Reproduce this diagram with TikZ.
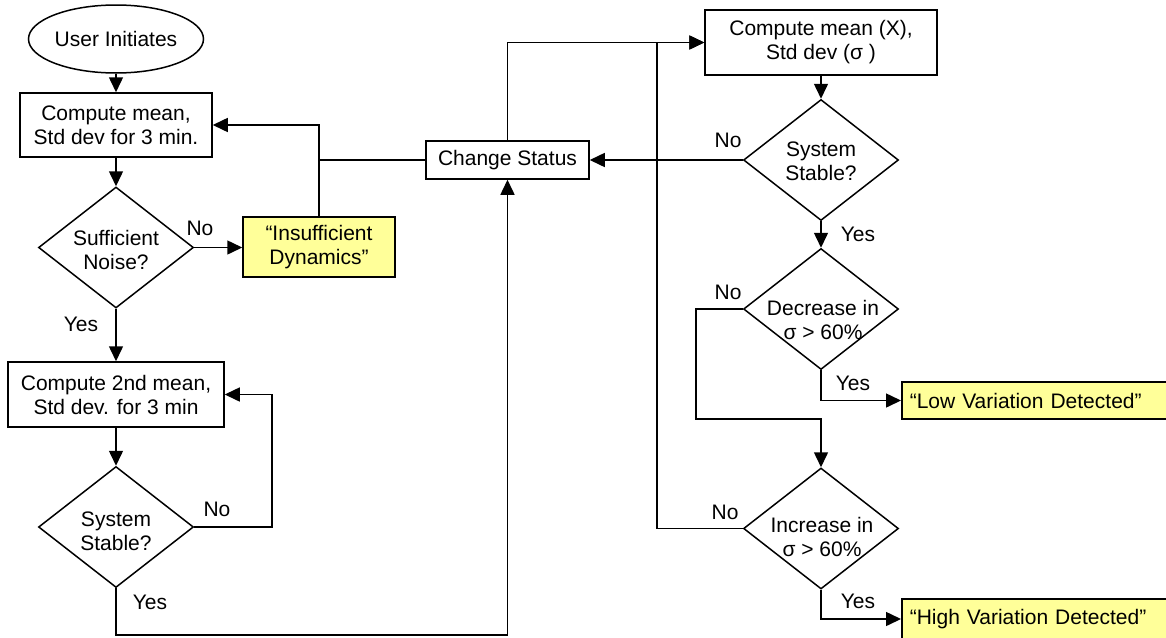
\documentclass[tikz,border=0pt]{standalone}
\usepackage{fontspec}
\setmainfont{Liberation Sans}
\usetikzlibrary{shapes.geometric,arrows.meta,calc}
\definecolor{notecol}{HTML}{FFFF99}
\begin{document}
\begin{tikzpicture}[x=1pt,y=-1pt,
  font=\fontsize{21}{24}\selectfont,
  line width=1.5pt,
  proc/.style={draw, rectangle, align=center, inner sep=0pt},
  notebox/.style={draw, rectangle, fill=notecol, align=center, inner sep=0pt},
  dec/.style={draw, diamond, inner sep=0pt, minimum width=155pt, minimum height=121pt},
  txt/.style={align=center, inner sep=0pt},
  lab/.style={inner sep=0pt},
  arr/.style={-{Triangle[length=15pt,width=14pt]}},
  thinline/.style={line width=1pt}
]
\useasboundingbox (0,0) rectangle (1166,637);

% nodes
\node[draw, ellipse, minimum width=175pt, minimum height=68pt, inner sep=0pt] (ell) at (116,39) {User Initiates};
\node[proc, minimum width=192pt, minimum height=64pt] (b1) at (116,125) {Compute mean,\\Std dev for 3 min.};
\node[dec] (d1) at (116,247.5) {};
\node[txt] (d1t) at (116,250) {Sufficient\\Noise?};
\node[notebox, minimum width=152pt, minimum height=60pt] (y1) at (319,247) {“Insufficient\\Dynamics”};
\node[proc, minimum width=216pt, minimum height=65pt] (b2) at (116,394.5) {Compute 2nd mean,\\Std dev. for 3 min};
\node[dec] (d2) at (116,527) {};
\node[txt] (d2t) at (116,531) {System\\Stable?};
\node[proc, minimum width=163pt, minimum height=38pt] (cs) at (507.5,160) {Change Status};
\node[proc, minimum width=232pt, minimum height=65pt] (cm) at (821,42.5) {Compute mean (X),\\Std dev (σ )};
\node[dec] (d3) at (821,160) {};
\node[txt] (d3t) at (821,161) {System\\Stable?};
\node[dec] (d4) at (821,309) {};
\node[txt] (d4t) at (823,320) {Decrease in\\σ > 60\%};
\node[dec] (d5) at (821,528.5) {};
\node[txt] (d5t) at (822,537) {Increase in\\σ > 60\%};
\node[notebox, anchor=west, minimum height=37pt, text width=254pt, align=left, inner xsep=8pt] (lo) at (901,400.5) {“Low Variation Detected”};
\node[notebox, anchor=west, minimum height=40pt, text width=254pt, align=left, inner xsep=8pt] (hi) at (901,619) {“High Variation Detected”};

% labels
\node[lab] (l1) at (200,228) {No};
\node[lab] (l2) at (81,324) {Yes};
\node[lab] (l3) at (217,509) {No};
\node[lab] (l4) at (150,602) {Yes};
\node[lab] (l5) at (728,140) {No};
\node[lab] (l6) at (858,234) {Yes};
\node[lab] (l7) at (728,292) {No};
\node[lab] (l8) at (853,383) {Yes};
\node[lab] (l9) at (725,512) {No};
\node[lab] (l10) at (858,601) {Yes};

% helper coordinates
\coordinate (xL) at (272,0);
\coordinate (yB) at (0,635);
\coordinate (xV) at (657,0);
\coordinate (xW) at (696,0);
\coordinate (yM) at (0,419);

% connectors
\draw[arr] (ell.south) -- (b1.north);
\draw[arr] (b1.south) -- (d1.north);
\draw[arr] (d1.east) -- (d1.east -| y1.west);
\draw[arr] (d1.south) -- (d1.south |- b2.north);
\draw[arr] (b2.south) -- (d2.north);
\draw[arr] (d2.east) -- (d2.east -| xL) -- (xL |- b2.east) -- (b2.east);
\draw[arr] (d2.south) -- (d2.south |- yB) -- (cs.south |- yB) -- (cs.south);
\draw[arr] (y1.north) -- (y1.north |- b1.east) -- (b1.east);
\draw (cs.west) -- (cs.west -| y1.north);
\draw[arr, thinline] (cs.north) -- (cs.north |- cm.west) -- (cm.west);
\draw[arr] (cm.south) -- (d3.north);
\draw[arr] (d3.west) -- (cs.east);
\draw[arr] (d3.south) -- (d4.north);
\draw[arr] (d4.south) |- (lo.west);
\draw[arr] (d4.west) -- (d4.west -| xW) -- (xW |- yM) -- (d5.north |- yM) -- (d5.north);
\draw[arr] (d5.south) |- (hi.west);
\draw[arr] (d5.west) -- (d5.west -| xV) -- (xV |- cm.west) -- (cm.west);
\end{tikzpicture}
\end{document}
